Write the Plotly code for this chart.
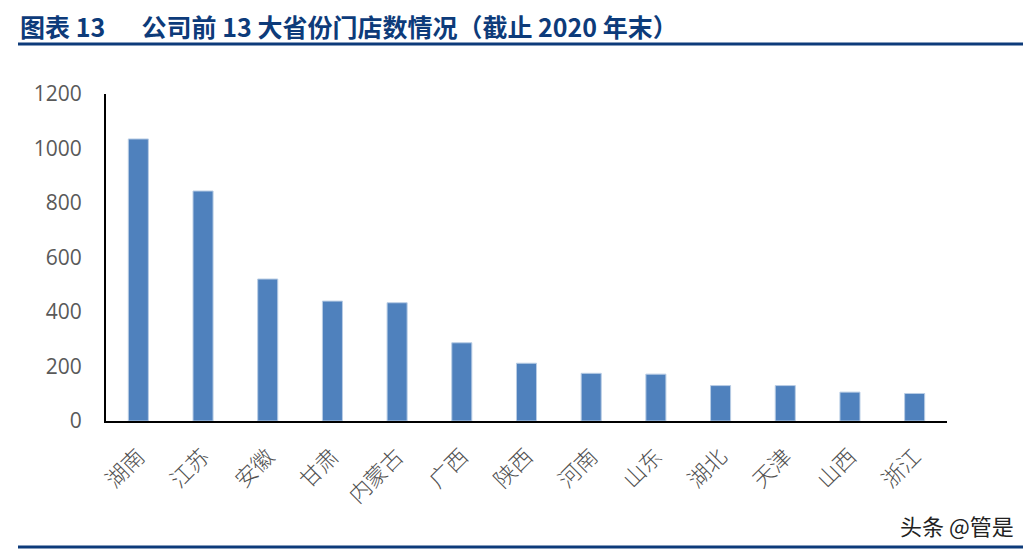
import plotly.graph_objects as go

categories = ["湖南", "江苏", "安徽", "甘肃", "内蒙古", "广西", "陕西", "河南", "山东", "湖北", "天津", "山西", "浙江"]
stores = [1035, 844, 521, 440, 434, 287, 212, 175, 172, 130, 130, 106, 101]
y_ticks = [0, 200, 400, 600, 800, 1000, 1200]

title_text = "图表 13 　 公司前 13 大省份门店数情况（截止 2020 年末）"
watermark = "头条 @管是"

OFF = 8  # page offset of the figure in the browser
W, H = 1031 - OFF, 555 - OFF
ML, MR, MT, MB = 106 - OFF, 84, 94 - OFF, 134
navy = "#0D3B7A"

plot_h = H - MT - MB
plot_w = W - ML - MR


def py(pix):  # page pixel y (from top) to paper coord
    return (H - MB - (pix - OFF)) / plot_h


def px(pix):  # page pixel x to paper coord
    return ((pix - OFF) - ML) / plot_w


fig = go.Figure(go.Bar(
    x=categories, y=stores,
    marker=dict(color="#4F81BD", line=dict(color="#B9CDE5", width=1)),
    width=0.31,
))

fig.update_layout(
    width=W, height=H,
    margin=dict(l=ML, r=MR, t=MT, b=MB),
    paper_bgcolor="white", plot_bgcolor="white",
    showlegend=False,
    font=dict(family="Noto Sans CJK SC", color="#595959"),
    xaxis=dict(
        tickangle=-45, showline=True, linecolor="#000000", linewidth=2,
        ticks="", showgrid=False,
        tickfont=dict(size=22, color="#505050", family="Noto Sans CJK SC", weight=300),
        ticklabelstandoff=12,
    ),
    yaxis=dict(
        range=[0, 1200], tickvals=y_ticks, showline=True, linecolor="#000000",
        linewidth=2, ticks="", showgrid=False, zeroline=False,
        tickfont=dict(size=21, color="#595959", family="Open Sans"),
        ticklabelstandoff=18,
    ),
    annotations=[
        dict(text=title_text, xref="paper", yref="paper", x=px(19), y=py(26),
             xanchor="left", yanchor="middle", showarrow=False, borderpad=0,
             font=dict(size=25, color=navy, family="Noto Sans CJK SC", weight="bold")),
        dict(text=watermark, xref="paper", yref="paper", x=px(1016), y=py(525),
             xanchor="right", yanchor="middle", showarrow=False,
             font=dict(size=22, color="#222222", family="Noto Sans CJK SC")),
    ],
    shapes=[
        dict(type="line", xref="paper", yref="paper", x0=px(18), x1=px(1031),
             y0=py(44), y1=py(44), line=dict(color=navy, width=3)),
        dict(type="line", xref="paper", yref="paper", x0=px(18), x1=px(1031),
             y0=py(547), y1=py(547), line=dict(color=navy, width=3)),
    ],
)

fig.write_html("out.html")
